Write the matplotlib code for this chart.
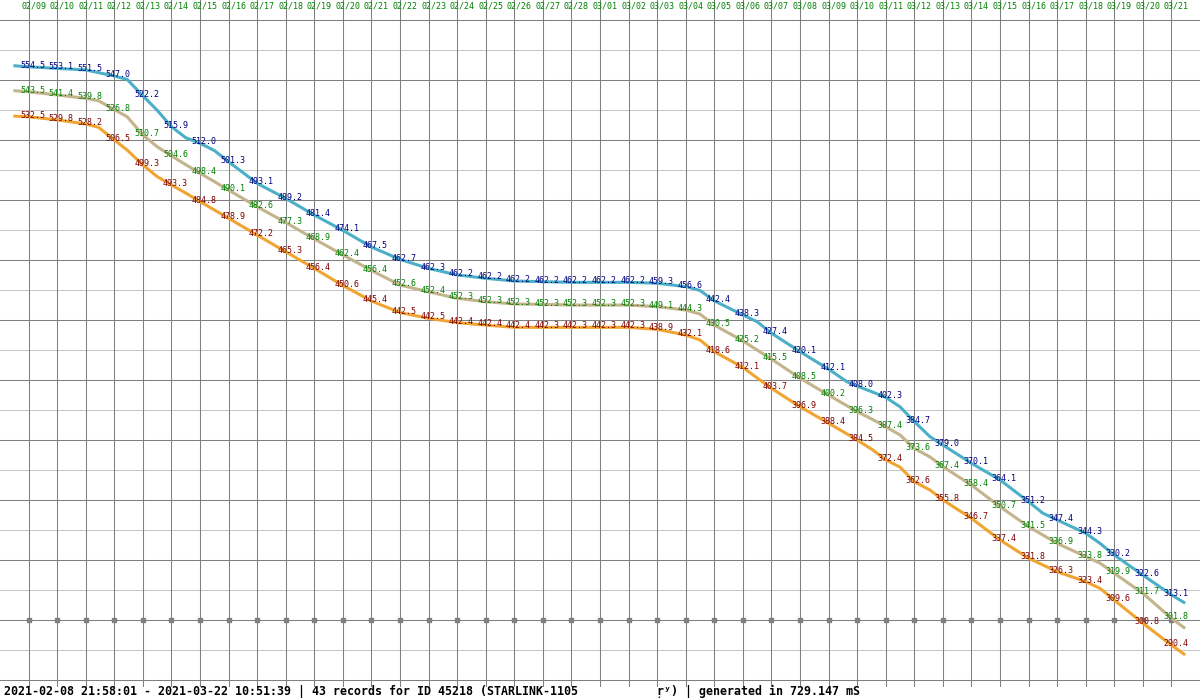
"""Orbit decay chart for STARLINK-1105: apogee / mean / perigee altitude per day."""
import numpy as np
import matplotlib
matplotlib.use("Agg")
import matplotlib.pyplot as plt

# record times, in days after 02/09 (the day gridlines sit on whole days)
t = [-0.53, 0, 1, 2, 2.45, 3, 3.45, 4, 4.5, 5, 5.5, 6, 6.5, 7, 8, 9, 10, 11, 12, 13,
     14, 15, 16, 17, 18, 19, 20, 21, 22, 23, 23.5, 24, 25, 25.5, 26, 27, 28, 28.65, 29, 29.55,
     30, 30.5, 31, 31.55, 32, 33, 34, 35, 35.5, 36, 37, 37.5, 38, 39, 40, 40.48]

# altitude traces, km
apogee = [554.7, 554.2, 553.5, 552.8, 551.6, 550.1, 548.6, 541.3, 534.9, 527.6,
          522.7, 520.2, 517.0, 512.0, 502.4, 495.7, 488.3, 481.5, 474.1, 468.6,
          464.6, 461.7, 460.2, 459.0, 458.7, 458.4, 458.4, 458.4, 458.0, 456.5,
          454.8, 450.2, 443.9, 440.9, 435.8, 427.6, 419.8, 414.2, 412.3, 409.6,
          407.3, 403.1, 396.5, 389.8, 386.1, 378.0, 370.6, 360.9, 355.8, 352.8,
          346.9, 342.4, 337.2, 328.3, 319.5, 315.8]
mean_alt = [543.6, 543.1, 541.7, 540.2, 539.1, 535.2, 532.0, 523.9, 518.7, 514.6,
            510.7, 506.9, 503.2, 499.4, 492.0, 485.0, 477.7, 470.6, 463.7, 457.2,
            454.2, 451.3, 449.8, 448.8, 448.6, 448.3, 448.3, 448.3, 447.6, 446.1,
            444.3, 439.4, 432.4, 428.3, 424.3, 415.8, 408.3, 403.5, 400.9, 397.4,
            394.2, 390.6, 384.6, 380.8, 376.5, 368.3, 358.7, 349.8, 346.1, 342.4,
            336.5, 333.6, 329.1, 320.2, 309.1, 304.6]
perigee = [532.3, 532.0, 530.6, 528.8, 527.3, 521.7, 517.2, 510.6, 505.4, 501.7,
           498.1, 494.3, 490.6, 486.9, 479.4, 472.0, 464.6, 457.0, 450.1, 445.0,
           442.4, 440.5, 439.4, 438.4, 438.4, 438.4, 438.4, 438.4, 437.5, 435.0,
           432.8, 427.6, 420.6, 415.9, 411.3, 403.1, 395.8, 391.0, 388.3, 383.9,
           379.5, 376.3, 369.8, 366.1, 361.7, 353.5, 343.9, 335.8, 332.8, 329.8,
           325.4, 322.4, 317.2, 306.9, 297.2, 292.8]

days = ["02/09", "02/10", "02/11", "02/12", "02/13", "02/14", "02/15", "02/16", "02/17",
        "02/18", "02/19", "02/20", "02/21", "02/22", "02/23", "02/24", "02/25", "02/26",
        "02/27", "02/28", "03/01", "03/02", "03/03", "03/04", "03/05", "03/06", "03/07",
        "03/08", "03/09", "03/10", "03/11", "03/12", "03/13", "03/14", "03/15", "03/16",
        "03/17", "03/18", "03/19", "03/20", "03/21"]

# daily values printed on the chart
apo_lbl = [554.5, 553.1, 551.5, 547.0, 522.2, 515.9, 512.0, 501.3, 493.1, 489.2, 481.4,
           474.1, 467.5, 462.7, 462.3, 462.2, 462.2, 462.2, 462.2, 462.2, 462.2, 462.2,
           459.3, 456.6, 442.4, 438.3, 427.4, 420.1, 412.1, 408.0, 402.3, 384.7, 379.0,
           370.1, 364.1, 351.2, 347.4, 344.3, 330.2, 322.6, 313.1]
mean_lbl = [543.5, 541.4, 539.8, 526.8, 510.7, 504.6, 498.4, 490.1, 482.6, 477.3, 468.9,
            462.4, 456.4, 452.6, 452.4, 452.3, 452.3, 452.3, 452.3, 452.3, 452.3, 452.3,
            449.1, 444.3, 430.5, 425.2, 415.5, 408.5, 400.2, 396.3, 387.4, 373.6, 367.4,
            358.4, 350.7, 341.5, 336.9, 333.8, 319.9, 311.7, 301.8]
peri_lbl = [532.5, 529.8, 528.2, 506.5, 499.3, 493.3, 484.8, 478.9, 472.2, 465.3, 456.4,
            450.6, 445.4, 442.5, 442.5, 442.4, 442.4, 442.4, 442.3, 442.3, 442.3, 442.3,
            438.9, 432.1, 418.6, 412.1, 403.7, 396.9, 388.4, 384.5, 372.4, 362.6, 355.8,
            346.7, 337.4, 331.8, 326.3, 323.4, 309.6, 300.8, 290.4]

footer = ("2021-02-08 21:58:01 - 2021-03-22 10:51:39 | 43 records for ID 45218 "
          "(STARLINK-1105")
footer2 = "\u0157\u02b8) | generated in 729.147 mS"

# layout: figure is 1200x700 px, plot grid from y=20 to y=680 px
PX_KM = 2.25          # pixels per km
KM_TOP = 575.0        # value at the top grid line
MONO = ["DejaVu Sans Mono", "DejaVu Sans"]
DARK, LIGHT = "#808080", "#c8c8c8"

fig = plt.figure(figsize=(12, 7), dpi=100)
ax = fig.add_axes([0, 0, 1, 1])
ax.set_xlim(-1, 41)
ax.set_ylim(KM_TOP - 680 / PX_KM, KM_TOP + 20 / PX_KM)
ax.axis("off")

day = np.arange(len(days))
for j in range(23):
    ax.axhline(KM_TOP - 30 * j / PX_KM, color=DARK if j % 2 == 0 else LIGHT, lw=0.75, zorder=1)
for d in day:
    ax.axvline(d, ymin=14 / 700, ymax=1, color=DARK, lw=0.75, zorder=1)
ax.plot(day, np.full(len(day), KM_TOP - 600 / PX_KM), "s", ms=2.4, color=DARK, zorder=1)

for d, lbl in zip(day, days):
    ax.annotate(lbl, (d, 1), xycoords=ax.get_xaxis_transform(), xytext=(3.6, -4.2),
                textcoords="offset points", ha="center", va="center",
                fontsize=6, color="#008000", family=MONO)

series = [(apogee, apo_lbl, "#4bafc8", "#000080"),
          (mean_alt, mean_lbl, "#c3b48c", "#008000"),
          (perigee, peri_lbl, "#f0a532", "#800000")]
for vals, lbls, lc, tc in series:
    ax.plot(t, vals, color=lc, lw=2.2, solid_capstyle="butt", zorder=2)
    for d, v in zip(day, lbls):
        ax.annotate(f"{v:.1f}", (d, np.interp(d, t, vals)), xytext=(2.9, 1.0),
                    textcoords="offset points", ha="center", va="center",
                    fontsize=6, color=tc, family=MONO, zorder=3)

fig.text(4 / 1200, 1 - 691 / 700, footer, ha="left", va="center", fontsize=8.4,
         weight="bold", family=MONO)
fig.text(657 / 1200, 1 - 691 / 700, footer2, ha="left", va="center", fontsize=8.4,
         weight="bold", family=MONO)

fig.savefig("out.png", dpi=100)
